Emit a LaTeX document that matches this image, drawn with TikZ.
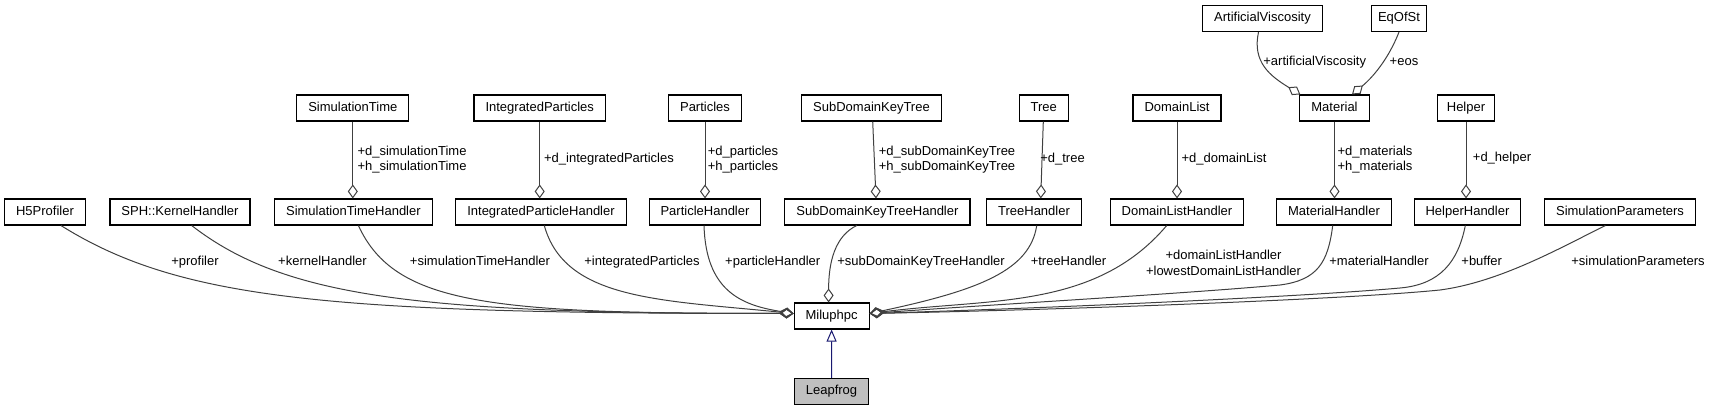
\documentclass[tikz,border=0pt]{standalone}
\usepackage{fontspec}
\setmainfont{Liberation Sans}
\usetikzlibrary{arrows.meta,calc}
\definecolor{edgegray}{HTML}{404040}
\definecolor{navyline}{HTML}{191970}
\definecolor{leapfill}{HTML}{BFBFBF}
\begin{document}
\begin{tikzpicture}[x=1pt,y=-1pt,
  every node/.style={font=\fontsize{13}{15.3}\selectfont},
  cls/.style={draw=black, line width=1.1pt, inner xsep=11.5pt, inner ysep=0pt, minimum height=26pt, text height=9.4pt, text depth=2.8pt, fill=white},
  lbl/.style={inner sep=0pt, text height=9.4pt, text depth=2.8pt},
  lbltwo/.style={inner sep=0pt, align=center},
  agg/.style={draw=edgegray, line width=1pt, -{Diamond[open, length=14pt, width=10pt]}},
  inh/.style={draw=navyline, line width=1pt, -{Triangle[open, length=12pt, width=10pt]}}
]
\useasboundingbox (0,0) rectangle (1712,411);

% bottom row
\node[cls] (h5) at (45,212) {H5Profiler};
\node[cls] (sph) at (180,212) {SPH::KernelHandler};
\node[cls] (sth) at (353.4,212) {SimulationTimeHandler};
\node[cls] (iph) at (541,212) {IntegratedParticleHandler};
\node[cls] (ph) at (705,212) {ParticleHandler};
\node[cls] (sdh) at (877.4,212) {SubDomainKeyTreeHandler};
\node[cls] (th) at (1034,212) {TreeHandler};
\node[cls] (dlh) at (1177,212) {DomainListHandler};
\node[cls] (mh) at (1334,212) {MaterialHandler};
\node[cls] (hh) at (1467.5,212) {HelperHandler};
\node[cls] (sp) at (1620,212) {SimulationParameters};

% middle row
\node[cls] (st) at (352.8,108) {SimulationTime};
\node[cls] (ip) at (539.7,108) {IntegratedParticles};
\node[cls] (pa) at (705,108) {Particles};
\node[cls] (sdt) at (871.5,108) {SubDomainKeyTree};
\node[cls] (tr) at (1043.8,108) {Tree};
\node[cls] (dl) at (1177,108) {DomainList};
\node[cls] (mat) at (1334.5,108) {Material};
\node[cls, inner xsep=9.5pt] (hp) at (1466,108) {Helper};

% top row
\node[cls] (av) at (1262.5,18.5) {ArtificialViscosity};
\node[cls, inner xsep=6.5pt] (eos) at (1399,18.5) {EqOfSt};

% centre
\node[cls] (mil) at (831.6,316) {Miluphpc};
\node[cls, fill=leapfill] (lf) at (831.5,391.5) {Leapfrog};

\coordinate (Lt) at ([yshift=2.5pt]mil.west);
\coordinate (Rt) at ([yshift=2.5pt]mil.east);
\coordinate (Tp) at ([xshift=-3pt]mil.north);

% left edges
\draw[agg] ([xshift=16pt]h5.south) .. controls (180,300) and (330,313.5) .. (Lt);
\draw[agg] ([xshift=11.7pt]sph.south) .. controls (285,298) and (420,313.5) .. (Lt);
\draw[agg] ([xshift=5pt]sth.south) .. controls (395,305) and (490,313.5) .. (Lt);
\draw[agg] ([xshift=3.3pt]iph.south) .. controls (565,300) and (660,300) .. (Lt);
\draw[agg] ([xshift=-1pt]ph.south) .. controls (706,290) and (740,305) .. (Lt);
\draw[agg] ([xshift=-20.7pt]sdh.south) .. controls (835,236) and (828.6,262) .. (Tp);

% right edges
\draw[agg] ([xshift=2.7pt]th.south) .. controls (1030,270) and (980,290) .. (Rt);
\draw[agg] ([xshift=-10.3pt]dlh.south) .. controls (1095,310) and (990,298) .. (Rt);
\draw[agg] ([xshift=-1.3pt]mh.south) .. controls (1328,262) and (1318,280) .. (1280,285) .. controls (1180,294) and (1000,304) .. (Rt);
\draw[agg] ([xshift=-2.2pt]hh.south) .. controls (1458,262) and (1440,284.5) .. (1400,288) .. controls (1300,297) and (1050,308) .. (Rt);
\draw[agg] ([xshift=-14.7pt]sp.south) .. controls (1560,248) and (1500,282) .. (1440,290) .. controls (1340,300) and (1050,310) .. (Rt);

% vertical edges
\draw[agg] (st.south) -- (st.south |- sth.north);
\draw[agg] (ip.south) -- (ip.south |- iph.north);
\draw[agg] (pa.south) -- (pa.south |- ph.north);
\draw[agg] ([xshift=1.2pt]sdt.south) -- ([xshift=-1.4pt]sdh.north);
\draw[agg] ([xshift=-0.5pt]tr.south) -- ([xshift=6.7pt]th.north);
\draw[agg] (dl.south) -- (dl.south |- dlh.north);
\draw[agg] (mat.south) -- (mat.south |- mh.north);
\draw[agg] (hp.south) -- (hp.south |- hh.north);

% top edges
\draw[agg] ([xshift=-4pt]av.south) .. controls (1252,62) and (1270,76) .. ([xshift=1pt]mat.north west);
\draw[agg] (eos.south) .. controls (1388,60) and (1372,78) .. ([xshift=17.5pt]mat.north);

% inheritance
\draw[inh] (lf.north) -- (mil.south);

% labels bottom
\node[lbl] (lprof) at (195,262.7) {+profiler};
\node[lbl] (lkern) at (322.5,262.7) {+kernelHandler};
\node[lbl] (lsth) at (480,262.7) {+simulationTimeHandler};
\node[lbl] (lip) at (642,262.7) {+integratedParticles};
\node[lbl] (lph) at (772.7,262.7) {+particleHandler};
\node[lbl] (lsdh) at (921,262.7) {+subDomainKeyTreeHandler};
\node[lbl] (lth) at (1068.5,262.7) {+treeHandler};
\node[lbltwo] (ldlh) at (1223.5,263) {+domainListHandler\\+lowestDomainListHandler};
\node[lbl] (lmh) at (1379,262.7) {+materialHandler};
\node[lbl] (lbuf) at (1481.7,262.7) {+buffer};
\node[lbl] (lsp) at (1638,262.7) {+simulationParameters};

% labels middle
\node[lbltwo] (lst) at (412,159.3) {+d\_simulationTime\\+h\_simulationTime};
\node[lbl] (lipd) at (609,159) {+d\_integratedParticles};
\node[lbltwo] (lpa) at (743,159.3) {+d\_particles\\+h\_particles};
\node[lbltwo] (lsdt) at (947,159.3) {+d\_subDomainKeyTree\\+h\_subDomainKeyTree};
\node[lbl] (ltr) at (1062.5,159) {+d\_tree};
\node[lbl] (ldl) at (1224,159) {+d\_domainList};
\node[lbltwo] (lmat) at (1375,159.3) {+d\_materials\\+h\_materials};
\node[lbl] (lhp) at (1502,158.5) {+d\_helper};

% labels top
\node[lbl] (lav) at (1314.7,62.3) {+artificialViscosity};
\node[lbl] (leos) at (1404,62.3) {+eos};
\end{tikzpicture}
\end{document}
